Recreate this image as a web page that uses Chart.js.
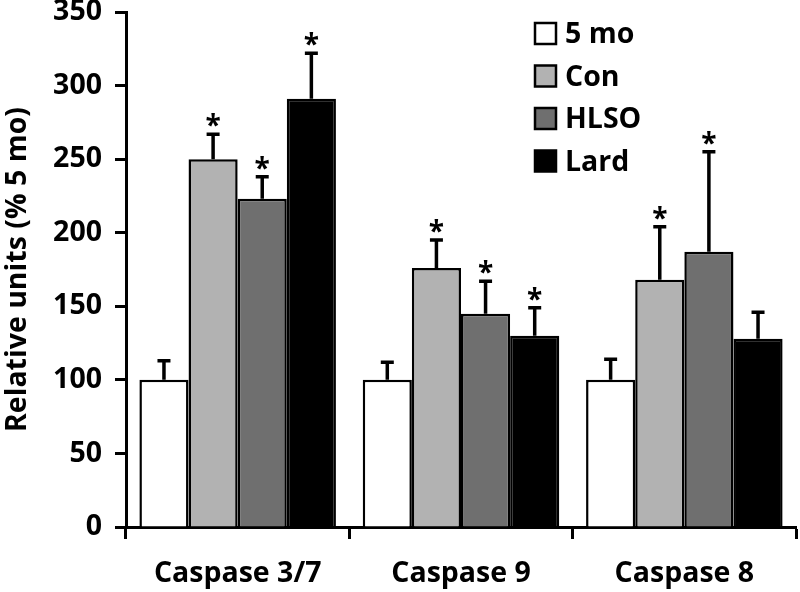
<!DOCTYPE html>
<html>
<head>
<meta charset="utf-8">
<script src="https://cdn.jsdelivr.net/npm/chart.js@4"></script>
<style>
  html, body { margin: 0; padding: 0; background: #fff; }
  #wrap { width: 800px; height: 592px; }
</style>
</head>
<body>
<div id="wrap"><canvas id="chart" width="800" height="592"></canvas></div>
<script>
const categories = ["Caspase 3/7", "Caspase 9", "Caspase 8"];
const seriesNames = ["5 mo", "Con", "HLSO", "Lard"];
const seriesColors = ["#ffffff", "#b2b2b2", "#6f6f6f", "#000000"];

const fiveMo = [100, 100, 100];
const con = [250, 176, 168];
const hlso = [223, 145, 187];
const lard = [291, 130, 128];

const fiveMoErr = [13, 12, 14];
const conErr = [17, 19, 36];
const hlsoErr = [15, 22, 68];
const lardErr = [31, 19, 18];

const fiveMoSig = [false, false, false];
const conSig = [true, true, true];
const hlsoSig = [true, true, true];
const lardSig = [true, true, false];

const yTicks = [0, 50, 100, 150, 200, 250, 300, 350];

const values = [fiveMo, con, hlso, lard];
const errors = [fiveMoErr, conErr, hlsoErr, lardErr];
const stars = [fiveMoSig, conSig, hlsoSig, lardSig];

const FONT = "'Open Sans', Lato, sans-serif";

// error bars (upper only) + significance stars
const errorBarPlugin = {
  id: "errorBars",
  afterDatasetsDraw(chart) {
    const ctx = chart.ctx;
    const yScale = chart.scales.y;
    ctx.save();
    ctx.strokeStyle = "#000";
    ctx.lineWidth = 3.5;
    ctx.fillStyle = "#000";
    ctx.font = "bold 28px " + FONT;
    ctx.textAlign = "center";
    ctx.textBaseline = "alphabetic";
    chart.data.datasets.forEach((ds, di) => {
      const meta = chart.getDatasetMeta(di);
      meta.data.forEach((bar, i) => {
        const x = bar.x;
        const yTop = yScale.getPixelForValue(values[di][i]);
        const yErr = yScale.getPixelForValue(values[di][i] + errors[di][i]);
        ctx.beginPath();
        ctx.moveTo(x, yTop);
        ctx.lineTo(x, yErr);
        ctx.moveTo(x - 6.5, yErr);
        ctx.lineTo(x + 6.5, yErr);
        ctx.stroke();
        if (stars[di][i]) {
          ctx.fillText("*", x, yErr + 1);
        }
      });
    });
    ctx.restore();
  },
};

// legend drawn in the top-right area
const legendPlugin = {
  id: "boxLegend",
  afterDraw(chart) {
    const ctx = chart.ctx;
    ctx.save();
    ctx.font = "bold 28.5px " + FONT;
    ctx.textBaseline = "middle";
    ctx.textAlign = "left";
    seriesNames.forEach((name, i) => {
      const cy = 33 + i * 42.5;
      ctx.fillStyle = seriesColors[i];
      ctx.fillRect(535, cy - 10, 21, 21);
      ctx.strokeStyle = "#000";
      ctx.lineWidth = 2.5;
      ctx.strokeRect(535, cy - 10, 21, 21);
      ctx.fillStyle = "#000";
      ctx.fillText(name, 565, cy + 2);
    });
    ctx.restore();
  },
};

new Chart(document.getElementById("chart").getContext("2d"), {
  type: "bar",
  data: {
    labels: categories,
    datasets: seriesNames.map((name, i) => ({
      label: name,
      data: values[i],
      backgroundColor: seriesColors[i],
      borderColor: "#000",
      borderWidth: 2.5,
      borderSkipped: "bottom",
      categoryPercentage: 0.88,
      barPercentage: 1.0,
    })),
  },
  options: {
    responsive: false,
    animation: false,
    layout: { padding: { top: 12, right: 4, left: 0, bottom: 0 } },
    plugins: {
      legend: { display: false },
      tooltip: { enabled: false },
    },
    scales: {
      x: {
        grid: {
          offset: true,
          drawOnChartArea: false,
          drawTicks: true,
          tickLength: 12,
          tickWidth: 3,
          tickColor: "#000",
        },
        border: { display: true, color: "#000", width: 3 },
        ticks: {
          color: "#000",
          font: { family: FONT, size: 28.5, weight: "bold" },
          padding: 18,
        },
        afterFit(scale) {
          scale.height = 592 - 527;
        },
      },
      y: {
        min: 0,
        max: 350,
        afterBuildTicks(scale) {
          scale.ticks = yTicks.map((v) => ({ value: v }));
        },
        grid: {
          drawOnChartArea: false,
          drawTicks: true,
          tickLength: 11,
          tickWidth: 3,
          tickColor: "#000",
        },
        border: { display: true, color: "#000", width: 3 },
        ticks: {
          color: "#000",
          font: { family: FONT, size: 28.5, weight: "bold" },
          padding: 13,
        },
        title: {
          display: true,
          text: "Relative units (% 5 mo)",
          color: "#000",
          font: { family: FONT, size: 28.5, weight: "bold" },
          padding: { top: 1, bottom: 0 },
        },
        afterFit(scale) {
          scale.width = 126;
          scale.paddingTop = 0;
          scale.paddingBottom = 0;
        },
      },
    },
  },
  plugins: [errorBarPlugin, legendPlugin],
});
</script>
</body>
</html>
